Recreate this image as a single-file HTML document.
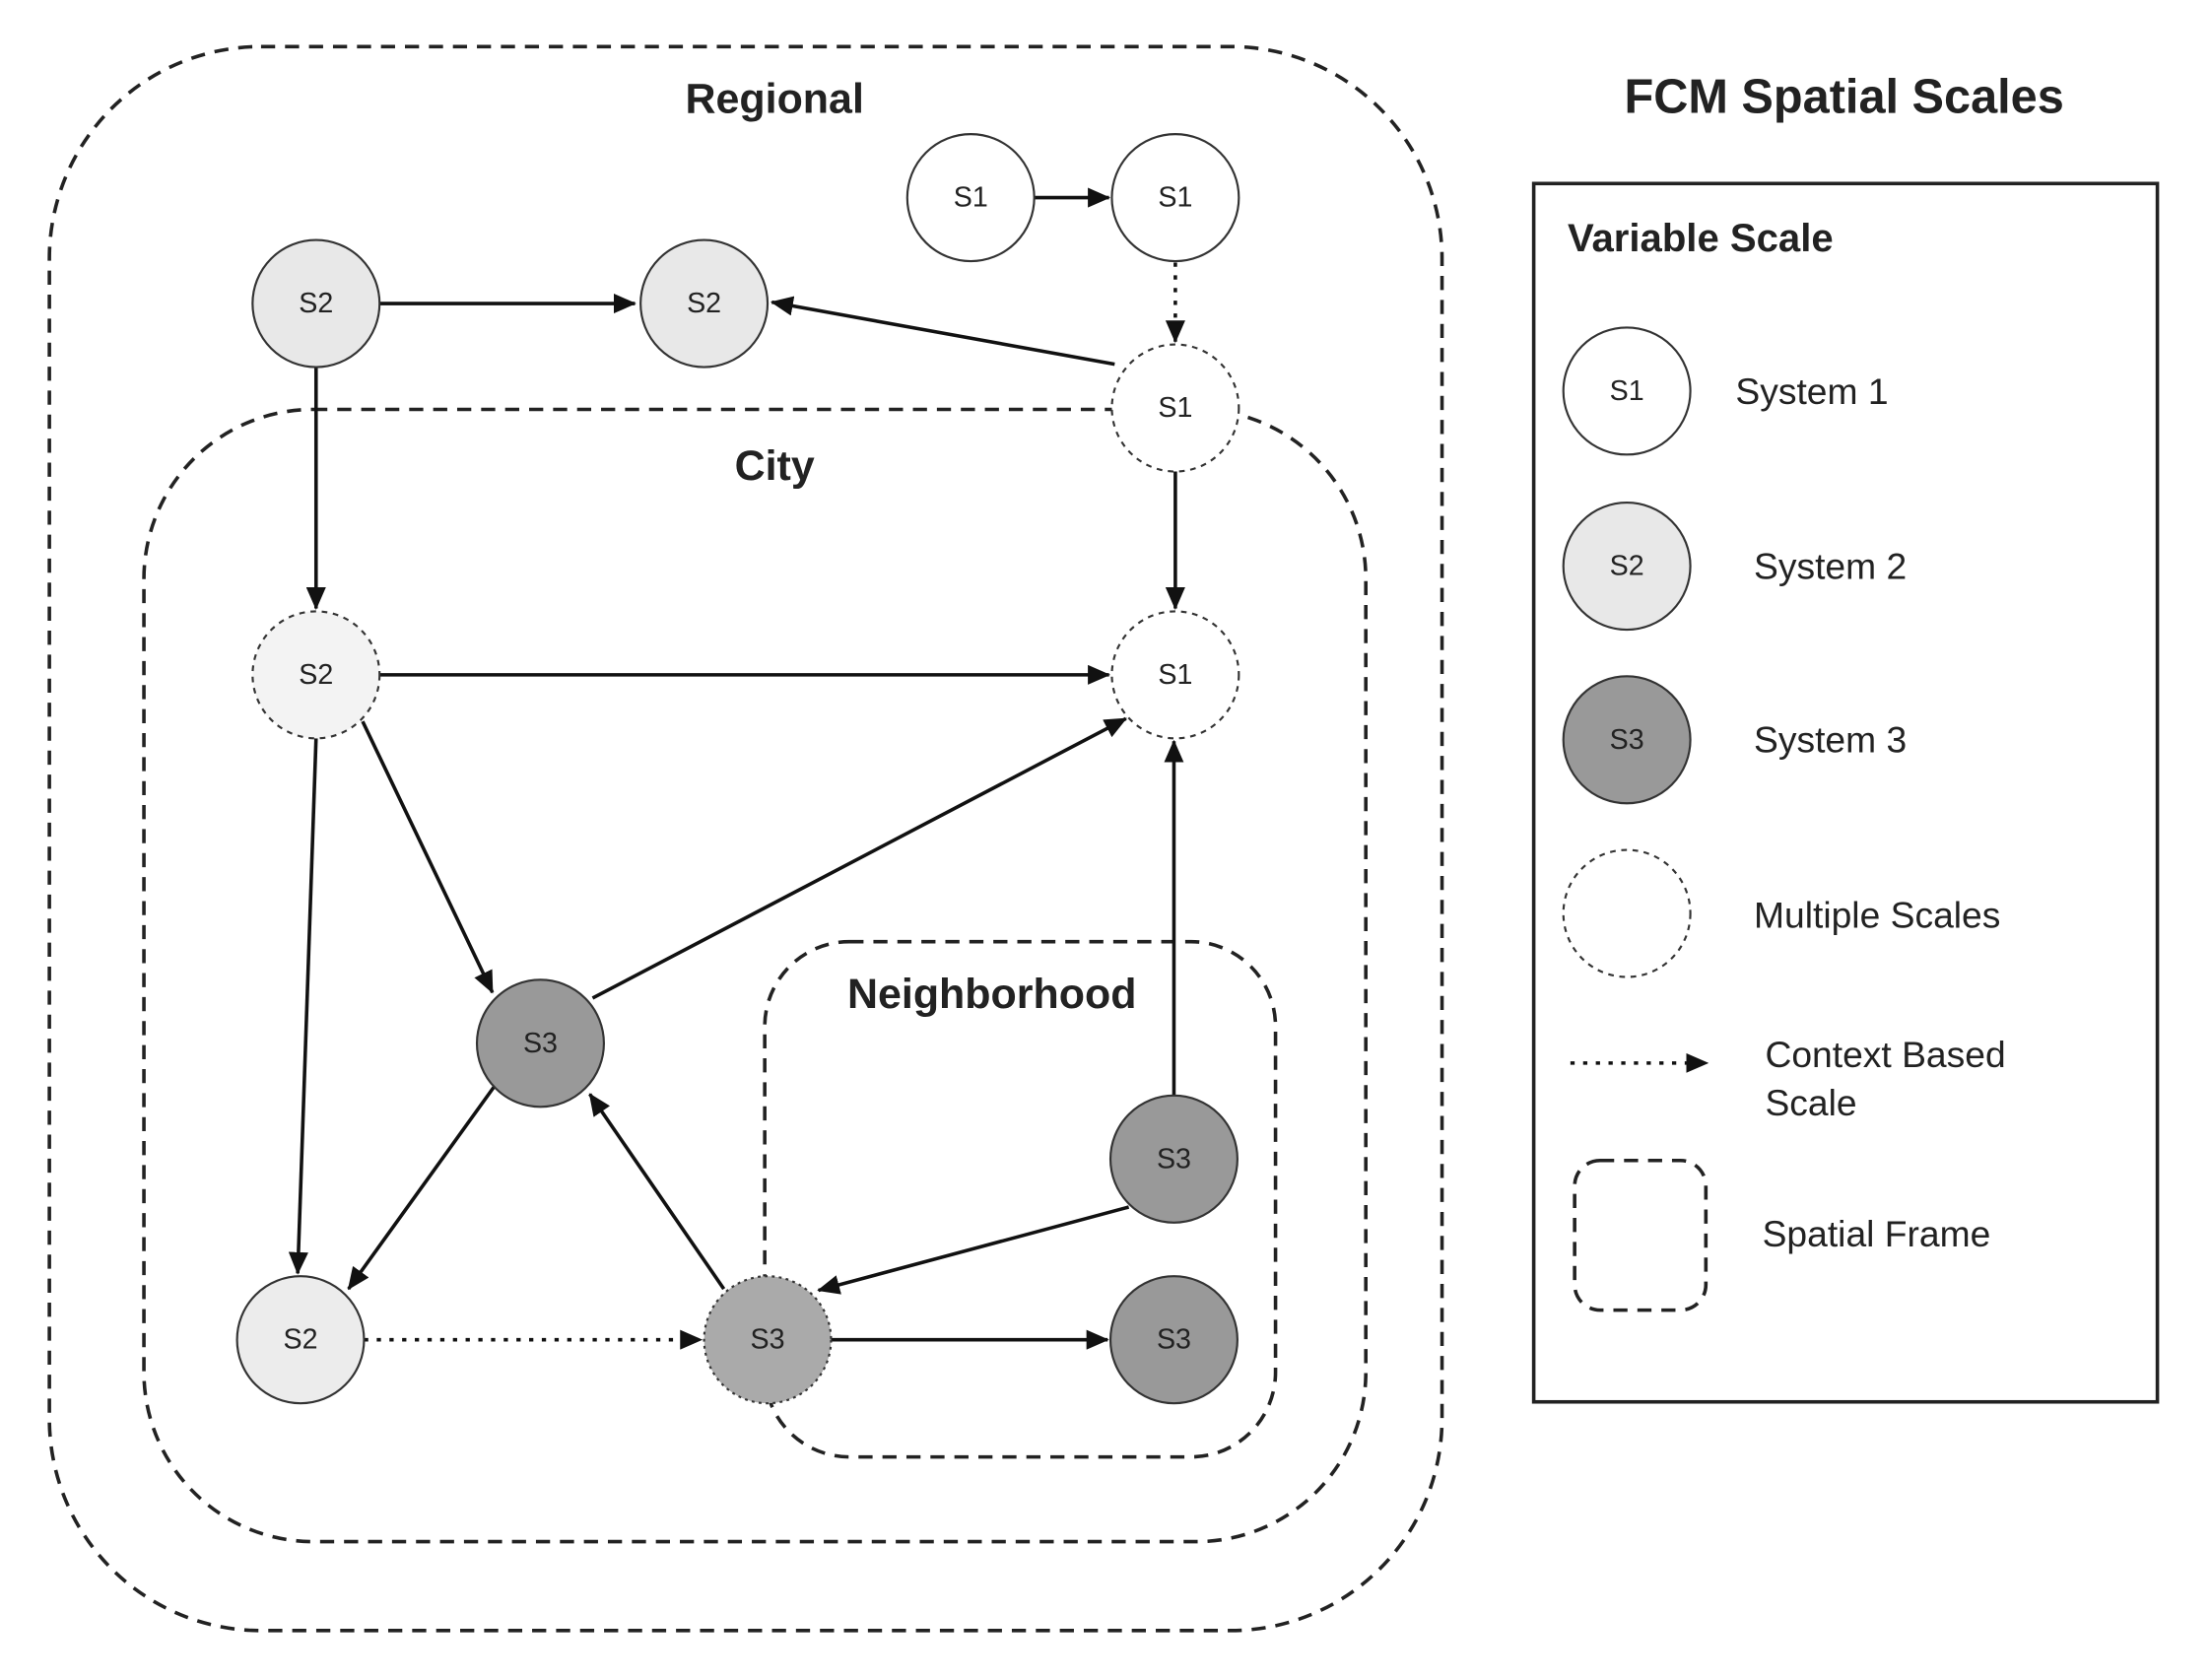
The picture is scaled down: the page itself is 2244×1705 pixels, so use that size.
<!DOCTYPE html>
<html><head><meta charset="utf-8"><style>
html,body{margin:0;padding:0;background:#fff;}
svg{display:block;}
text{font-family:"Liberation Sans",Arial,sans-serif;fill:#222;}
.n{font-size:20px;text-anchor:middle;dominant-baseline:central;}
.t{font-size:30px;font-weight:bold;text-anchor:middle;}
.l{font-size:26px;}
</style></head><body>
<svg width="2244" height="1705" viewBox="0 0 1567 1190" preserveAspectRatio="none" xmlns="http://www.w3.org/2000/svg">
<defs>
<marker id="b" markerWidth="16" markerHeight="14" refX="15" refY="7" orient="auto" markerUnits="userSpaceOnUse" viewBox="0 0 16 14">
<path d="M0,0 L16,7 L0,14 z" fill="#111"/></marker>
</defs>
<g fill="none" stroke="#222" stroke-width="2.5" stroke-dasharray="10,7">
<rect x="35" y="33" width="987" height="1122" rx="150"/>
<rect x="102" y="290" width="866" height="802" rx="120"/>
<rect x="542" y="667" width="362" height="365" rx="60"/>
</g>
<text class="t" x="549" y="80">Regional</text>
<text class="t" x="549" y="340">City</text>
<text class="t" x="703" y="714">Neighborhood</text>
<g stroke="#111" stroke-width="2.5" fill="none" marker-end="url(#b)">
<line x1="733" y1="140" x2="786" y2="140"/>
<line x1="790" y1="258" x2="547" y2="214"/>
<line x1="269" y1="215" x2="450" y2="215"/>
<line x1="833" y1="186" x2="833" y2="242" stroke-dasharray="3,6"/>
<line x1="224" y1="260" x2="224" y2="431"/>
<line x1="833" y1="334" x2="833" y2="431"/>
<line x1="269" y1="478" x2="786" y2="478"/>
<line x1="257" y1="511" x2="349" y2="703"/>
<line x1="420" y1="707" x2="798" y2="509"/>
<line x1="832" y1="776" x2="832" y2="525"/>
<line x1="224" y1="523" x2="211" y2="902"/>
<line x1="350" y1="770" x2="247" y2="913"/>
<line x1="513" y1="913" x2="418" y2="775"/>
<line x1="800" y1="855" x2="580" y2="914"/>
<line x1="589" y1="949" x2="785" y2="949"/>
<line x1="258" y1="949" x2="497" y2="949" stroke-dasharray="3,6"/>
</g>
<g stroke="#333" stroke-width="1.5">
<circle cx="688" cy="140" r="45" fill="#fff"/>
<circle cx="833" cy="140" r="45" fill="#fff"/>
<circle cx="224" cy="215" r="45" fill="#e8e8e8"/>
<circle cx="499" cy="215" r="45" fill="#e8e8e8"/>
<circle cx="833" cy="289" r="45" fill="#fff" stroke-dasharray="4,4"/>
<circle cx="224" cy="478" r="45" fill="#f3f3f3" stroke-dasharray="4,4"/>
<circle cx="833" cy="478" r="45" fill="#fff" stroke-dasharray="4,4"/>
<circle cx="383" cy="739" r="45" fill="#999"/>
<circle cx="832" cy="821" r="45" fill="#999"/>
<circle cx="832" cy="949" r="45" fill="#999"/>
<circle cx="213" cy="949" r="45" fill="#ececec"/>
<circle cx="544" cy="949" r="45" fill="#aaa" stroke-dasharray="2,3"/>
</g>
<text class="n" x="688" y="140">S1</text><text class="n" x="833" y="140">S1</text>
<text class="n" x="224" y="215">S2</text><text class="n" x="499" y="215">S2</text>
<text class="n" x="833" y="289">S1</text><text class="n" x="224" y="478">S2</text>
<text class="n" x="833" y="478">S1</text><text class="n" x="383" y="739">S3</text>
<text class="n" x="832" y="821">S3</text><text class="n" x="832" y="949">S3</text>
<text class="n" x="213" y="949">S2</text><text class="n" x="544" y="949">S3</text>

<text x="1307" y="80" style="font-size:34px;font-weight:bold;text-anchor:middle">FCM Spatial Scales</text>
<rect x="1087" y="130" width="442" height="863" fill="none" stroke="#222" stroke-width="2.5"/>
<text x="1111" y="178" style="font-size:28px;font-weight:bold">Variable Scale</text>
<g stroke="#333" stroke-width="1.5">
<circle cx="1153" cy="277" r="45" fill="#fff"/>
<circle cx="1153" cy="401" r="45" fill="#e8e8e8"/>
<circle cx="1153" cy="524" r="45" fill="#999"/>
<circle cx="1153" cy="647" r="45" fill="#fff" stroke-dasharray="4,4"/>
</g>
<text class="n" x="1153" y="277">S1</text><text class="n" x="1153" y="401">S2</text><text class="n" x="1153" y="524">S3</text>
<text class="l" x="1230" y="286">System 1</text>
<text class="l" x="1243" y="410">System 2</text>
<text class="l" x="1243" y="533">System 3</text>
<text class="l" x="1243" y="657">Multiple Scales</text>
<line x1="1113" y1="753" x2="1210" y2="753" stroke="#111" stroke-width="2.5" stroke-dasharray="3,6" marker-end="url(#b)"/>
<text class="l" x="1251" y="756">Context Based</text>
<text class="l" x="1251" y="790">Scale</text>
<rect x="1116" y="822" width="93" height="106" rx="18" fill="none" stroke="#222" stroke-width="2.5" stroke-dasharray="10,7"/>
<text class="l" x="1249" y="883">Spatial Frame</text>
</svg>
</body></html>
